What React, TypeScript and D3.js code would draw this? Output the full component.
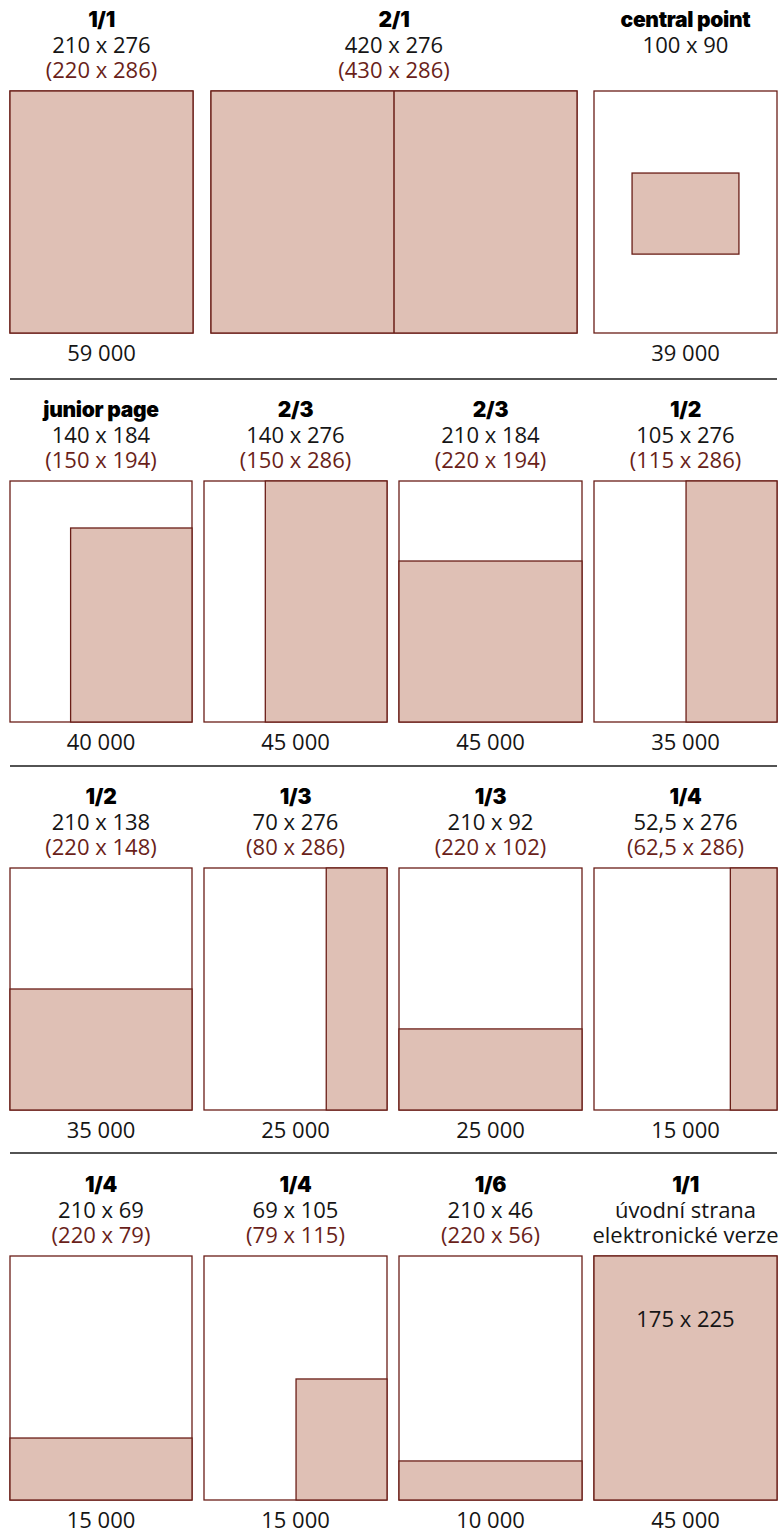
import React from "react";
import * as d3 from "d3";

// ---- data ----
const titles = ["1/1", "2/1", "central point", "junior page", "2/3", "2/3", "1/2", "1/2", "1/3", "1/3", "1/4", "1/4", "1/4", "1/6", "1/1"];
const trimSizes = ["210 x 276", "420 x 276", "100 x 90", "140 x 184", "140 x 276", "210 x 184", "105 x 276", "210 x 138", "70 x 276", "210 x 92", "52,5 x 276", "210 x 69", "69 x 105", "210 x 46", "úvodní strana"];
const bleedSizes = ["(220 x 286)", "(430 x 286)", "", "(150 x 194)", "(150 x 286)", "(220 x 194)", "(115 x 286)", "(220 x 148)", "(80 x 286)", "(220 x 102)", "(62,5 x 286)", "(220 x 79)", "(79 x 115)", "(220 x 56)", "elektronické verze"];
const prices = ["59 000", "", "39 000", "40 000", "45 000", "45 000", "35 000", "35 000", "25 000", "25 000", "15 000", "15 000", "15 000", "10 000", "45 000"];
// ad area within page, as fractions [x0, y0, x1, y1]
const adAreas: number[][] = [
  [0, 0, 1, 1], [0, 0, 1, 1], [0.208, 0.339, 0.792, 0.674],
  [0.333, 0.195, 1, 1], [0.335, 0, 1, 1], [0, 0.332, 1, 1], [0.503, 0, 1, 1],
  [0, 0.5, 1, 1], [0.668, 0, 1, 1], [0, 0.665, 1, 1], [0.745, 0, 1, 1],
  [0, 0.746, 1, 1], [0.503, 0.504, 1, 1], [0, 0.84, 1, 1], [0, 0, 1, 1],
];
const spreadDividers = [null, 0.5, null, null, null, null, null, null, null, null, null, null, null, null, null];
const innerLabels = ["", "", "", "", "", "", "", "", "", "", "", "", "", "", "175 x 225"];
const rowOf = [0, 0, 0, 1, 1, 1, 1, 2, 2, 2, 2, 3, 3, 3, 3];
const colOf = [0, 1, 2, 0, 1, 2, 3, 0, 1, 2, 3, 0, 1, 2, 3];

// ---- layout ----
const W = 781, H = 1530;
const rowTop = [91, 481, 868, 1256];
const rowH = [242, 241, 242, 244];
const row1Cols = [[10, 193], [211, 577], [594, 777]];
const otherCols = [[10, 192], [204, 387], [399, 582], [594, 777]];
const separators = [379, 766, 1153];

const FILL = "#dfc0b5";
const STROKE = "#6a1e17";
const RED_TEXT = "#6a1f1a";
const TEXT = "#151515";
const REG = "'Open Sans', 'Noto Sans', sans-serif";
const BOLD = "Inter, 'Noto Sans', sans-serif";

export default function App() {
  return (
    <svg width={W} height={H} style={{ position: "absolute", left: 0, top: 0, background: "#fff" }}>
      {titles.map((t, i) => {
        const r = rowOf[i];
        const cols = r === 0 ? row1Cols : otherCols;
        const [cx0, cx1] = cols[colOf[i]];
        const top = rowTop[r];
        const x = d3.scaleLinear().domain([0, 1]).range([cx0, cx1]);
        const y = d3.scaleLinear().domain([0, 1]).range([top, top + rowH[r]]);
        const cx = x(0.5);
        const a = adAreas[i];
        const b2 = bleedSizes[i];
        const b2IsBleed = b2.startsWith("(");
        const div = spreadDividers[i];
        return (
          <g key={i}>
            <text x={cx} y={top - 64} textAnchor="middle" fontFamily={BOLD} fontWeight={900} fontSize={21} letterSpacing={-0.3} fill="#000">{t}</text>
            <text x={cx} y={top - 38} textAnchor="middle" fontFamily={REG} fontWeight={400} fontSize={22} fill={TEXT}>{trimSizes[i]}</text>
            {b2 && (
              <text x={cx} y={top - 13} textAnchor="middle" fontFamily={REG} fontWeight={400} fontSize={22} fill={b2IsBleed ? RED_TEXT : TEXT}>{b2}</text>
            )}
            <rect x={x(0)} y={y(0)} width={x(1) - x(0)} height={y(1) - y(0)} fill="#fff" stroke={STROKE} strokeWidth={1.3} />
            <rect x={x(a[0])} y={y(a[1])} width={x(a[2]) - x(a[0])} height={y(a[3]) - y(a[1])} fill={FILL} stroke={STROKE} strokeWidth={1.3} />
            {div !== null && (
              <line x1={x(div)} x2={x(div)} y1={y(0)} y2={y(1)} stroke={STROKE} strokeWidth={1.5} />
            )}
            {innerLabels[i] && (
              <text x={cx} y={y(0.29)} textAnchor="middle" fontFamily={REG} fontWeight={400} fontSize={22} fill={TEXT}>{innerLabels[i]}</text>
            )}
            {prices[i] && (
              <text x={cx} y={y(1) + 28} textAnchor="middle" fontFamily={REG} fontWeight={400} fontSize={22} fill={TEXT}>{prices[i]}</text>
            )}
          </g>
        );
      })}
      {separators.map((s, i) => (
        <line key={i} x1={10} x2={777} y1={s} y2={s} stroke="#1a1a1a" strokeWidth={1.5} />
      ))}
    </svg>
  );
}
